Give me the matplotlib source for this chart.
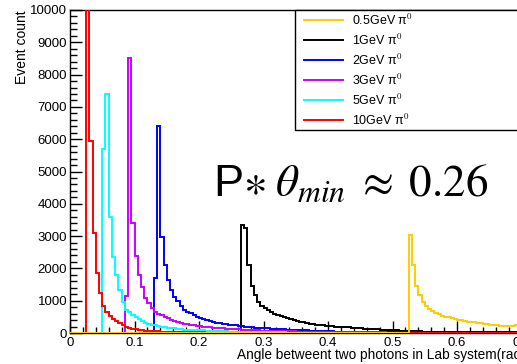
import numpy as np
import matplotlib
matplotlib.use("Agg")
import matplotlib.pyplot as plt
from matplotlib.lines import Line2D
from matplotlib.patches import Rectangle

plt.rcParams['font.family'] = ['Liberation Sans', 'DejaVu Sans']
plt.rcParams['mathtext.fontset'] = 'stix'

# histogram binning (rad)
bin_width = 0.005
x_max = 0.8

labels = ['0.5GeV π$^{0}$', '1GeV π$^{0}$', '2GeV π$^{0}$',
          '3GeV π$^{0}$', '5GeV π$^{0}$', '10GeV π$^{0}$']
colors = ['#ffcc00', '#000000', '#0000ff', '#cc00ff', '#00ffff', '#ff0000']

# first non-empty bin of each sample, then bin contents
starts = [0.525, 0.265, 0.130, 0.085, 0.050, 0.025]

counts_05 = [3030, 2105, 1450, 1170, 970, 840, 750, 680, 620, 580,
             540, 510, 480, 460, 430, 400, 390, 370, 350, 340,
             330, 310, 300, 280, 275, 260, 250, 235, 225, 220,
             210, 215, 230, 240, 235, 220, 215, 210, 205, 200,
             195, 190, 185, 180, 175, 170]
counts_1 = [3340, 3260, 2120, 1455, 1180, 970, 840, 760, 700, 650,
            600, 560, 520, 480, 450, 425, 400, 375, 350, 330,
            310, 290, 270, 255, 245, 235, 225, 215, 205, 195,
            190, 185, 180, 175, 170, 165, 150, 140, 130, 125,
            120, 115, 110, 105, 100, 95, 92, 90, 80, 70,
            62, 58, 55, 52, 50, 48, 46, 45, 44, 43,
            42, 41, 40, 39, 38, 37, 36, 35, 34, 33,
            32, 31, 30, 29, 28, 27, 26, 25, 25, 24,
            24, 23, 23, 22, 22, 21, 21, 20]
counts_2 = [1690, 6400, 2980, 2105, 1640, 1340, 1125, 1000, 830, 720,
            650, 610, 560, 500, 460, 420, 390, 360, 340, 320,
            300, 285, 270, 255, 245, 235, 220, 205, 195, 185,
            178, 170, 162, 155, 150, 142, 135, 128, 122, 116,
            110, 105, 100, 95, 90, 86, 82, 78, 74, 70,
            66, 62, 58, 54, 50, 48, 46, 44, 42, 40,
            38, 36, 34, 33, 32, 31, 30, 29, 28, 27,
            26, 25, 24, 23, 22, 21, 20, 20, 19, 18,
            18, 17, 16, 16, 15, 15, 14, 14, 13, 13,
            12, 12, 12, 11, 11]
counts_3 = [1150, 8500, 3420, 2380, 1800, 1435, 1075, 920, 765, 640,
            600, 560, 510, 470, 400, 360, 330, 310, 290, 280,
            260, 245, 230, 215, 200, 190, 180, 170, 160, 150,
            142, 135, 128, 122, 116, 110, 104, 99, 94, 90,
            85, 81, 77, 73, 70, 66, 63, 60, 57, 54,
            52, 49, 47, 45, 43, 41, 39, 37, 35, 34,
            32, 31, 30, 29, 28, 27, 26, 25, 24, 23,
            22, 21, 20, 20, 19, 18, 18, 17, 17, 16,
            16, 15, 15, 14, 14, 13, 13, 12, 12, 12,
            11, 11, 11, 10]
counts_5 = [5700, 7400, 3600, 2350, 1800, 1320, 970, 700, 640, 560,
            480, 420, 370, 320, 290, 260, 235, 215, 200, 185,
            165, 150, 140, 125, 115, 105, 100, 95, 90, 88,
            85, 80, 75, 70, 65, 60, 56, 52, 48, 45,
            42, 40, 37, 35, 33, 31, 29, 27, 26, 24,
            23, 22, 20, 19, 18, 17, 16, 15, 14, 13,
            12, 12, 11, 10, 10, 9, 9, 8, 8, 7, 7]
counts_10 = [16000, 5950, 3090, 1870, 1250, 830, 640, 530, 435, 365,
             300, 250, 200, 160, 130, 110, 95, 85, 75, 68,
             60, 55, 50, 45, 40, 37, 34, 31, 29, 27,
             25, 23, 21, 20, 18, 17, 16, 15, 14, 13,
             12, 11, 10, 10, 9, 9, 8, 8, 7, 7,
             6, 6, 6, 5, 5, 5]
all_counts = [counts_05, counts_1, counts_2, counts_3, counts_5, counts_10]

n_bins = int(round(x_max / bin_width))
edges = np.linspace(0, x_max, n_bins + 1)


def fill(start, counts):
    h = np.zeros(n_bins)
    i0 = int(round(start / bin_width))
    h[i0:i0 + len(counts)] = counts
    return h


W, H = 517, 364
fig = plt.figure(figsize=(W / 100, H / 100), dpi=100)
# axes frame runs past the right edge of the picture (cropped canvas)
x0, y_top, y_bot = 70, 10, 333
ax_w = x_max * 645 / W
ax = fig.add_axes([x0 / W, 1 - y_bot / H, ax_w, (y_bot - y_top) / H])

# draw order: yellow last so its empty bins sit on the baseline at left
order = [1, 2, 3, 4, 5, 0]
for k, i in enumerate(order):
    ax.stairs(fill(starts[i], all_counts[i]), edges, color=colors[i],
              lw=1.4, baseline=0, zorder=2 + k)

ax.set_xlim(0, x_max)
ax.set_ylim(0, 10000)
ax.set_xticks(np.arange(0, x_max + 0.001, 0.1))
ax.set_xticklabels(['0', '0.1', '0.2', '0.3', '0.4', '0.5', '0.6', '0.7', '0.8'])
ax.set_xticks(np.arange(0, x_max + 0.001, 0.02), minor=True)
ax.set_yticks(np.arange(0, 10001, 1000))
ax.set_yticks(np.arange(0, 10001, 200), minor=True)
ax.tick_params(which='both', direction='in', labelsize=9.5, width=1.0,
               top=False, right=False)
ax.tick_params(axis='y', which='major', length=8.5, pad=2)
ax.tick_params(axis='y', which='minor', length=5)
ax.tick_params(axis='x', which='major', length=8.5, pad=3)
ax.tick_params(axis='x', which='minor', length=4)
for s in ax.spines.values():
    s.set_linewidth(1.0)

fig.text(22 / W, 1 - y_top / H, 'Event count', rotation=90,
         ha='center', va='top', fontsize=10)
fig.text(237 / W, 1 - 355 / H,
         'Angle betweent two photons in Lab system(rad)',
         ha='left', va='center', fontsize=9.8)

fig.text(213 / W, 1 - 196 / H,
         r'P$\ast\;\theta_{min}\;\approx\;0.26$',
         ha='left', va='baseline', fontsize=32.5)

# legend box (ROOT style), pixel layout
def fx(x):
    return x / W


def fy(y):
    return 1 - y / H


fig.patches.append(Rectangle((fx(295), fy(130)), fx(700) - fx(295),
                             fy(10) - fy(130), transform=fig.transFigure,
                             facecolor='white', edgecolor='black', lw=1.0,
                             zorder=10))
for i, (lab, c) in enumerate(zip(labels, colors)):
    y = 20 + 20 * i
    fig.lines.append(Line2D([fx(304), fx(343)], [fy(y), fy(y)],
                            transform=fig.transFigure, color=c, lw=1.4,
                            zorder=11))
    fig.text(fx(352), fy(y), lab, ha='left', va='center', fontsize=9,
             zorder=12)

fig.savefig('out.png', dpi=100)
